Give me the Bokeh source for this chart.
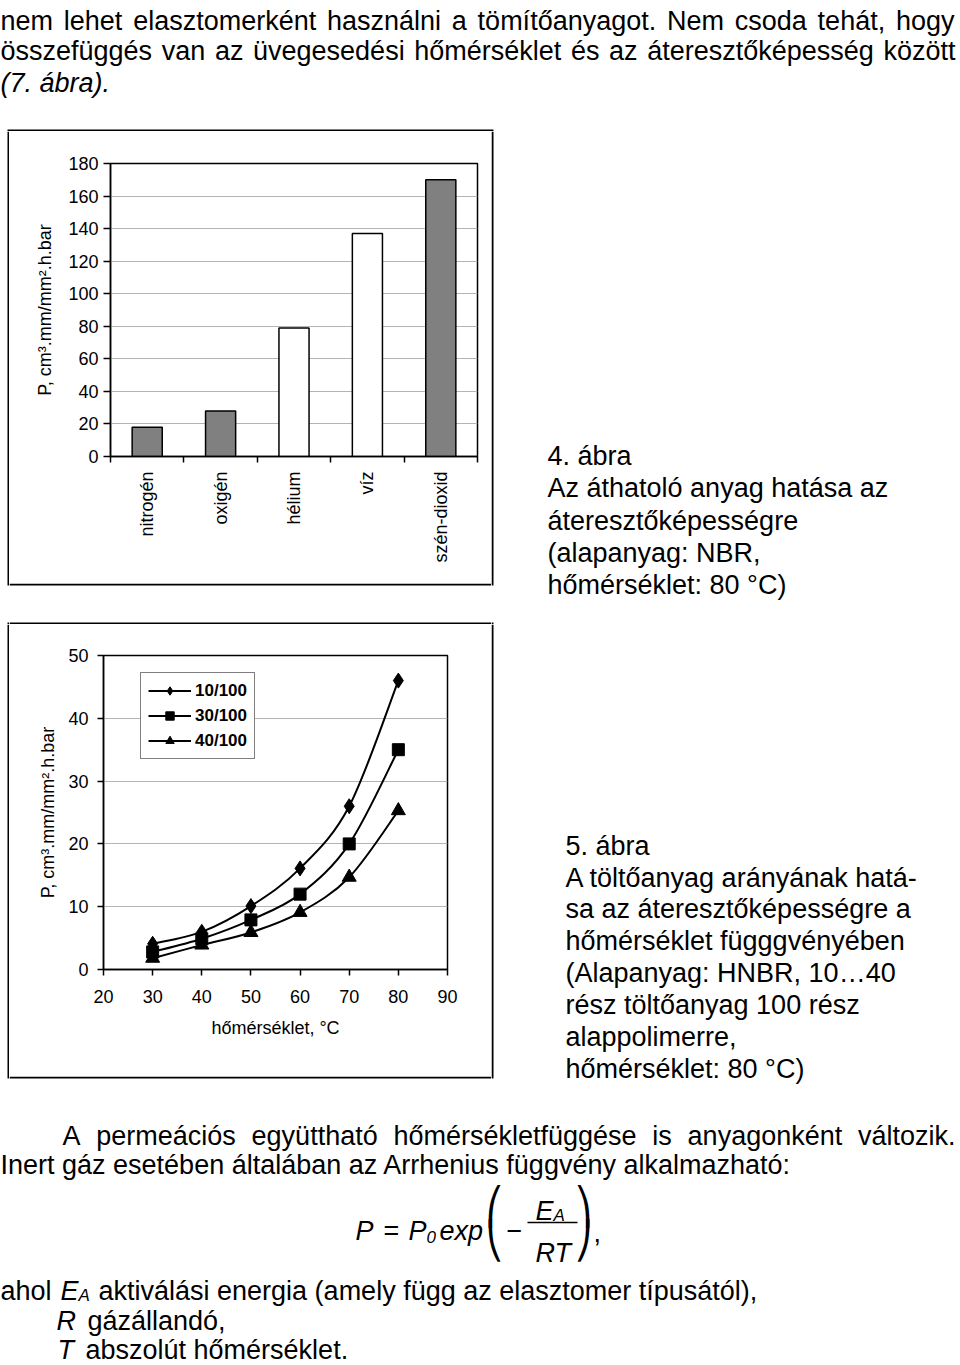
import math
from bokeh.plotting import figure
from bokeh.layouts import column, row
from bokeh.models import Range1d, FixedTicker, Legend, LegendItem, ColumnDataSource
from bokeh.core.properties import value
from bokeh.embed import file_html
from bokeh.resources import INLINE

FONT = "Liberation Sans"
FS = 27

# ---------------- data: figure 4 (bar chart) ----------------
gases = ["nitrogén", "oxigén", "hélium", "víz", "szén-dioxid"]
perm = [18, 28, 79, 137, 170]
bar_colors = ["#808080", "#808080", "#ffffff", "#ffffff", "#808080"]
bar_yticks = [0, 20, 40, 60, 80, 100, 120, 140, 160, 180]

# ---------------- data: figure 5 (line chart) ----------------
temps = [30, 40, 50, 60, 70, 80]
s10 = [4.1, 6.0, 10.1, 16.1, 26.0, 46.0]
s30 = [2.8, 4.9, 7.9, 12.0, 20.0, 35.0]
s40 = [1.8, 3.9, 5.9, 9.1, 14.7, 25.3]
series_names = ["10/100", "30/100", "40/100"]
line_xticks = [20, 30, 40, 50, 60, 70, 80, 90]
line_yticks = [0, 10, 20, 30, 40, 50]
y_label = "P, cm³.mm/mm².h.bar"
x_label = "hőmérséklet, °C"

# ---------------- page text ----------------
top_lines = ["nem lehet elasztomerként használni a tömítőanyagot. Nem csoda tehát, hogy",
             "összefüggés van az üvegesedési hőmérséklet és az áteresztőképesség között"]
top_last = "(7. ábra)."
cap4 = ["4. ábra", "Az áthatoló anyag hatása az", "áteresztőképességre",
        "(alapanyag: NBR,", "hőmérséklet: 80 °C)"]
cap5 = ["5. ábra", "A töltőanyag arányának hatá-", "sa az áteresztőképességre a",
        "hőmérséklet függgvényében", "(Alapanyag: HNBR, 10…40",
        "rész töltőanyag 100 rész", "alappolimerre,", "hőmérséklet: 80 °C)"]
bot1 = "A permeációs együttható hőmérsékletfüggése is anyagonként változik."
bot2 = "Inert gáz esetében általában az Arrhenius függvény alkalmazható:"

# Arial / Liberation Sans advance widths (1/1000 em)
_W = {}
for chars, w in [("abdeghnopqu0123456789áéóöőúüűL", 556), ("cksvxyzJ", 500),
                 ("ft .,:/!í", 278), ("ijl", 222), ("r()-", 333), ("mM", 833),
                 ("wCDHNRU", 722), ("ABEKPSVXY", 667), ("FTZ", 611), ("GOQ", 778),
                 ("W", 944), ("I", 278), ("°", 400), ("…", 1000), ("=−", 584)]:
    for c in chars:
        _W[c] = w


def tw(s, size=FS):
    return sum(_W.get(c, 556) for c in s) * size / 1000.0


def text_canvas(w, h):
    p = figure(width=w, height=h, x_range=Range1d(0, w), y_range=Range1d(h, 0),
               output_backend="svg", toolbar_location=None, title=None,
               x_axis_location=None, y_axis_location=None,
               min_border=0, outline_line_color=None)
    p.grid.visible = False
    p.background_fill_color = "white"
    p.border_fill_color = "white"
    return p


def rule(p, l, r, t, b):
    # black frame-line piece of the chart boxes
    p.quad(left=[l], right=[r], top=[t], bottom=[b], fill_color="black", line_color=None)


def put(p, xs, ys, texts, size=FS, style="normal", align="left", font=FONT,
        baseline="alphabetic"):
    p.text(x=xs, y=ys, text=texts, text_font=value(font), text_font_size=f"{size}px",
           text_font_style=style, text_align=align, text_baseline=baseline,
           text_color="black")


def justify(p, x0, x1, y, line, size=FS):
    words = line.split()
    ws = [tw(w, size) for w in words]
    gap = (x1 - x0 - sum(ws)) / (len(words) - 1)
    xs, x = [], x0
    for w in ws:
        xs.append(x)
        x += w + gap
    put(p, xs, [y] * len(words), words, size)


def style_axes(p, fs="18px"):
    for ax in p.axis:
        ax.axis_line_color = "black"
        ax.axis_line_width = 1.5
        ax.major_tick_line_color = "black"
        ax.major_tick_line_width = 1.5
        ax.minor_tick_line_color = "black"
        ax.minor_tick_line_width = 1.5
        ax.major_tick_in = 0
        ax.minor_tick_in = 0
        ax.minor_tick_out = 0
        ax.major_label_text_font = FONT
        ax.major_label_text_font_size = fs
        ax.major_label_text_color = "black"
        ax.axis_label_text_font = FONT
        ax.axis_label_text_font_size = fs
        ax.axis_label_text_font_style = "normal"
        ax.axis_label_text_color = "black"


# ---------------- A: top text block (page y 0..131) ----------------
top = text_canvas(960, 131)
justify(top, 0, 954, 20, top_lines[0])
justify(top, 0, 955, 50, top_lines[1])
put(top, [0], [82], [top_last], style="italic")
rule(top, 7, 493, 129, 131)

# ---------------- B: row with figure 4 (page y 131..624) ----------------
L1 = text_canvas(9, 493)
rule(L1, 7, 9, 0, 454)
rule(L1, 7, 9, 491, 493)

xc = [2 * i + 1 for i in range(len(gases))]
bounds = [2 * i for i in range(len(gases) + 1)]
src1 = ColumnDataSource(dict(x=xc, top=perm, color=bar_colors, name=gases))
p1 = figure(frame_width=367, frame_height=293, min_border_left=101, min_border_right=14,
            min_border_top=32, min_border_bottom=127,
            x_range=Range1d(0, 2 * len(gases)), y_range=Range1d(0, 180),
            output_backend="svg", toolbar_location=None, title=None)
p1.vbar(x="x", top="top", width=0.82, fill_color="color", line_color="black",
        line_width=1.5, source=src1)
p1.background_fill_color = "white"
p1.border_fill_color = "white"
p1.outline_line_color = "black"
p1.outline_line_width = 1.5
p1.xgrid.visible = False
p1.ygrid.ticker = FixedTicker(ticks=bar_yticks)
p1.ygrid.grid_line_color = "#b4b4b4"
p1.ygrid.grid_line_width = 1
style_axes(p1)
p1.yaxis.ticker = FixedTicker(ticks=bar_yticks)
p1.yaxis.major_tick_out = 7
p1.yaxis.major_label_standoff = 5
p1.yaxis.axis_label = y_label
p1.yaxis.axis_label_standoff = 10
p1.xaxis.ticker = FixedTicker(ticks=xc, minor_ticks=bounds)
p1.xaxis.major_tick_out = 0
p1.xaxis.minor_tick_out = 6
p1.xaxis.major_label_standoff = 9
p1.xaxis.major_label_orientation = math.pi / 2
p1.xaxis.major_label_overrides = {c: g for c, g in zip(xc, gases)}

G1 = text_canvas(482, 41)
rule(G1, 0, 482, 0, 2)
rule(G1, 0, 482, 39, 41)

cap1 = text_canvas(469, 493)
rule(cap1, 0, 2, 0, 454)
rule(cap1, 0, 2, 491, 493)
put(cap1, [56] * len(cap4), [324, 356, 389, 421, 453], cap4)

# ---------------- C: row with figure 5 (page y 624..1100) ----------------
L2 = text_canvas(9, 476)
rule(L2, 7, 9, 0, 454)

p2 = figure(frame_width=344, frame_height=314, min_border_left=94, min_border_right=44,
            min_border_top=31, min_border_bottom=107,
            x_range=Range1d(20, 90), y_range=Range1d(0, 50),
            output_backend="svg", toolbar_location=None, title=None)
p2.background_fill_color = "white"
p2.border_fill_color = "white"
p2.outline_line_color = "black"
p2.outline_line_width = 1.5
p2.xgrid.visible = False
p2.ygrid.ticker = FixedTicker(ticks=line_yticks)
p2.ygrid.grid_line_color = "#b4b4b4"
p2.ygrid.grid_line_width = 1
style_axes(p2)
p2.xaxis.ticker = FixedTicker(ticks=line_xticks)
p2.yaxis.ticker = FixedTicker(ticks=line_yticks)
p2.xaxis.major_tick_out = 6
p2.yaxis.major_tick_out = 6
p2.xaxis.major_label_standoff = 14
p2.yaxis.major_label_standoff = 9
p2.yaxis.axis_label = y_label
p2.yaxis.axis_label_standoff = 7
p2.xaxis.axis_label = x_label
p2.xaxis.axis_label_standoff = 12


def smooth_segments(xs, ys, t=1.0 / 6.0):
    px = [xs[0]] + list(xs) + [xs[-1]]
    py = [ys[0]] + list(ys) + [ys[-1]]
    d = dict(x0=[], y0=[], x1=[], y1=[], cx0=[], cy0=[], cx1=[], cy1=[])
    for i in range(len(xs) - 1):
        d["x0"].append(px[i + 1]); d["y0"].append(py[i + 1])
        d["x1"].append(px[i + 2]); d["y1"].append(py[i + 2])
        d["cx0"].append(px[i + 1] + (px[i + 2] - px[i]) * t)
        d["cy0"].append(py[i + 1] + (py[i + 2] - py[i]) * t)
        d["cx1"].append(px[i + 2] - (px[i + 3] - px[i + 1]) * t)
        d["cy1"].append(py[i + 2] - (py[i + 3] - py[i + 1]) * t)
    return d


markers = [("diamond", 15), ("square", 12), ("triangle", 14)]
items = []
for name, ys, (mk, sz) in zip(series_names, [s10, s30, s40], markers):
    seg = ColumnDataSource(smooth_segments(temps, ys))
    rb = p2.bezier(x0="x0", y0="y0", x1="x1", y1="y1", cx0="cx0", cy0="cy0",
                   cx1="cx1", cy1="cy1", source=seg, line_color="black", line_width=2)
    rs = p2.scatter(x=temps, y=ys, marker=mk, size=sz,
                    fill_color="black", line_color="black")
    items.append(LegendItem(label=name, renderers=[rb, rs]))

leg = Legend(items=items, location=(37, 210), border_line_color="black",
             border_line_width=1.5, background_fill_color="white", background_fill_alpha=1,
             padding=7, spacing=4, margin=0, glyph_width=43, glyph_height=21,
             label_height=21, label_standoff=4, label_text_font=FONT,
             label_text_font_size="17px", label_text_font_style="bold",
             label_text_color="black")
p2.add_layout(leg)

G2 = text_canvas(482, 24)
rule(G2, 0, 482, 0, 2)

cap2 = text_canvas(469, 476)
rule(cap2, 0, 2, 0, 454)
put(cap2, [74] * len(cap5), [221, 253, 284, 316, 348, 380, 412, 444], cap5)

# ---------------- D: bottom text block (page y 1100..1365) ----------------
Y0 = 1100
bot = text_canvas(960, 1365 - Y0)
justify(bot, 62, 955, 1135 - Y0, bot1)
put(bot, [0], [1164 - Y0], [bot2])
fy = 1230 - Y0
put(bot, [355], [fy], ["P"], style="italic")
put(bot, [383], [fy], ["="])
put(bot, [408], [fy], ["P"], style="italic")
put(bot, [426], [fy + 6], ["0"], size=17, style="italic")
put(bot, [439], [fy], ["exp"], style="italic")
put(bot, [494, 494], [1206 - Y0, 1240 - Y0], ["⎛", "⎝"], size=36, font="DejaVu Sans",
    align="center", baseline="middle")
put(bot, [506], [fy], ["−"])
bot.segment(x0=[527], y0=[1222 - Y0], x1=[577], y1=[1222 - Y0], line_color="black",
            line_width=1.5)
put(bot, [535], [1210 - Y0], ["E"], style="italic")
put(bot, [553], [1215 - Y0], ["A"], size=17, style="italic")
put(bot, [535], [1252 - Y0], ["RT"], style="italic")
put(bot, [583, 583], [1206 - Y0, 1240 - Y0], ["⎞", "⎠"], size=36, font="DejaVu Sans",
    align="center", baseline="middle")
put(bot, [593], [fy + 2], [","])
put(bot, [0], [1290 - Y0], ["ahol"])
put(bot, [60], [1290 - Y0], ["E"], style="italic")
put(bot, [78], [1295 - Y0], ["A"], size=17, style="italic")
put(bot, [98], [1290 - Y0], ["aktiválási energia (amely függ az elasztomer típusától),"])
put(bot, [56], [1320 - Y0], ["R"], style="italic")
put(bot, [87], [1320 - Y0], ["gázállandó,"])
put(bot, [57], [1349 - Y0], ["T"], style="italic")
put(bot, [85], [1349 - Y0], ["abszolút hőmérséklet."])

row1 = row(column(L1), column(row(p1), row(G1)), column(cap1))
row2 = row(column(L2), column(row(p2), row(G2)), column(cap2))
page = column(row(top), row1, row2, row(bot))
open("out.html", "w").write(file_html(page, INLINE))
